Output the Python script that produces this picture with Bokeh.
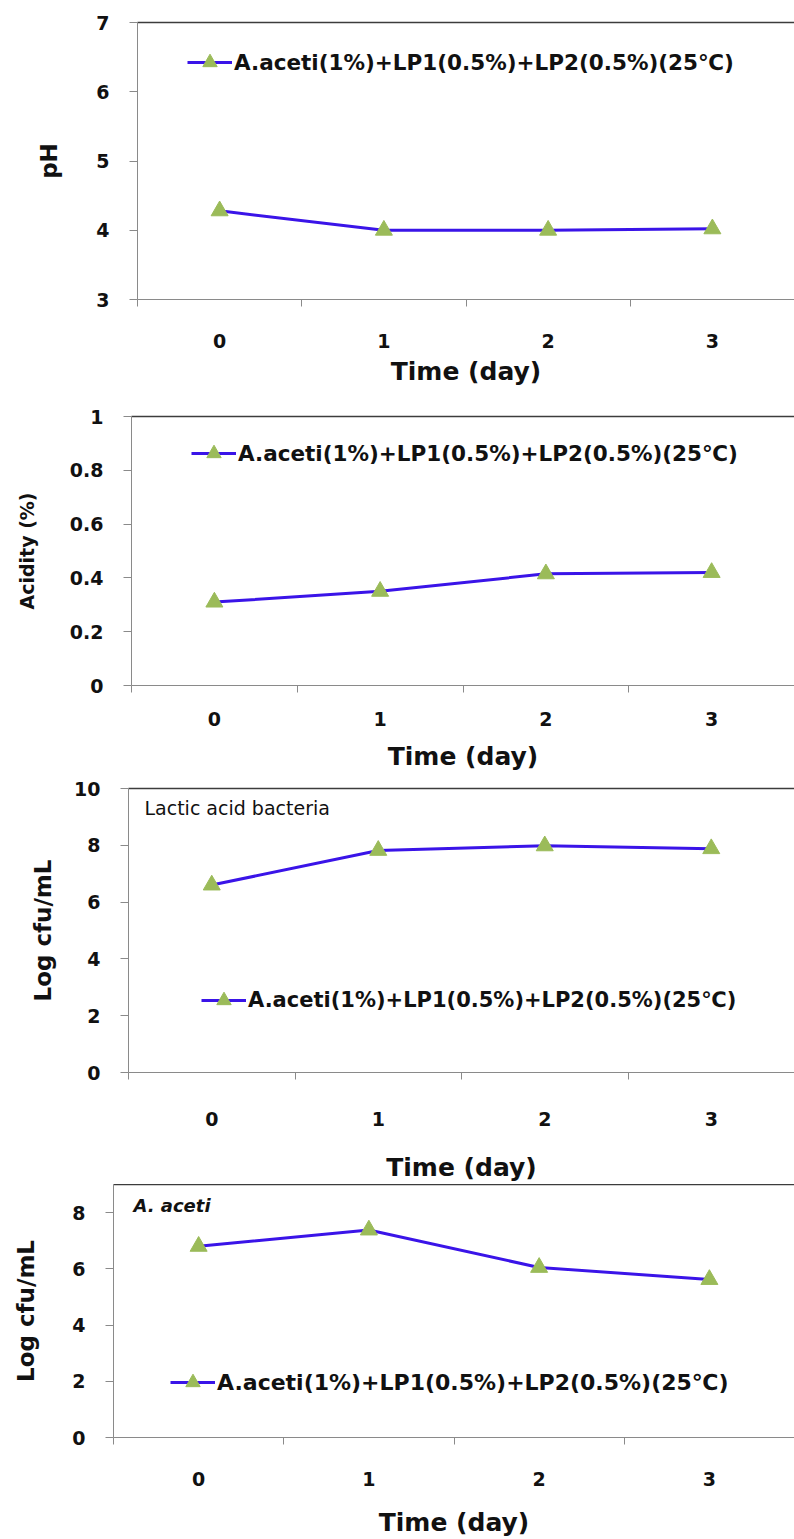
from bokeh.plotting import figure
from bokeh.layouts import column
from bokeh.models import (Range1d, FixedTicker, LinearAxis, Legend, LegendItem, Label)
from bokeh.embed import file_html
from bokeh.resources import INLINE

# ---- data -------------------------------------------------------------
days = ["0", "1", "2", "3"]
series_name = "A.aceti(1%)+LP1(0.5%)+LP2(0.5%)(25℃)"

ph_values = [4.28, 4.00, 4.00, 4.02]
acidity_values = [0.31, 0.35, 0.415, 0.42]
lab_values = [6.60, 7.82, 7.98, 7.88]
aceti_values = [6.80, 7.38, 6.05, 5.62]

ph_ticks = [3, 4, 5, 6, 7]
acidity_ticks = [0, 0.2, 0.4, 0.6, 0.8, 1]
acidity_tick_labels = ["0", "0.2", "0.4", "0.6", "0.8", "1"]
lab_ticks = [0, 2, 4, 6, 8, 10]
aceti_ticks = [0, 2, 4, 6, 8]

# ---- style ------------------------------------------------------------
LINE_COLOR = "#3a14e8"
MARKER_COLOR = "#9bbb59"
AXIS_GRAY = "#8a8a8a"
FONT = "DejaVu Sans"
W = 794


def panel(values, ticks, y_start, y_end, height, border_top, border_bottom,
          border_left, y_title, y_title_size, y_title_standoff,
          x_label_standoff, x_title_standoff, legend_xy, legend_size,
          tick_overrides=None):
    p = figure(width=W, height=height, output_backend="svg", toolbar_location=None,
               x_range=Range1d(0, 4), y_range=Range1d(y_start, y_end),
               min_border_left=border_left, min_border_right=0,
               min_border_top=border_top, min_border_bottom=border_bottom,
               x_axis_type=None, y_axis_type=None)
    p.frame_align = False
    p.outline_line_color = None
    p.background_fill_color = "white"
    p.border_fill_color = "white"

    xs = [i + 0.5 for i in range(len(days))]

    # category axis: labels at centres, tick marks at the category boundaries
    xaxis = LinearAxis(ticker=FixedTicker(ticks=xs, minor_ticks=[0, 1, 2, 3, 4]))
    xaxis.major_label_overrides = {x: d for x, d in zip(xs, days)}
    xaxis.major_tick_line_color = None
    xaxis.major_tick_in = 0
    xaxis.major_tick_out = 0
    xaxis.minor_tick_line_color = AXIS_GRAY
    xaxis.minor_tick_in = 0
    xaxis.minor_tick_out = 7
    xaxis.axis_line_color = AXIS_GRAY
    xaxis.major_label_text_font = FONT
    xaxis.major_label_text_font_style = "bold"
    xaxis.major_label_text_font_size = "19px"
    xaxis.major_label_text_color = "#111111"
    xaxis.major_label_standoff = x_label_standoff
    xaxis.axis_label = "Time (day)"
    xaxis.axis_label_text_font = FONT
    xaxis.axis_label_text_font_style = "bold"
    xaxis.axis_label_text_font_size = "25px"
    xaxis.axis_label_text_color = "#111111"
    xaxis.axis_label_standoff = x_title_standoff
    p.add_layout(xaxis, "below")

    yaxis = LinearAxis(ticker=FixedTicker(ticks=ticks, minor_ticks=[]))
    if tick_overrides:
        yaxis.major_label_overrides = tick_overrides
    yaxis.axis_line_color = AXIS_GRAY
    yaxis.major_tick_line_color = AXIS_GRAY
    yaxis.major_tick_in = 0
    yaxis.major_tick_out = 8
    yaxis.minor_tick_line_color = None
    yaxis.major_label_text_font = FONT
    yaxis.major_label_text_font_style = "bold"
    yaxis.major_label_text_font_size = "19px"
    yaxis.major_label_text_color = "#111111"
    yaxis.major_label_standoff = 20
    yaxis.axis_label = y_title
    yaxis.axis_label_text_font = FONT
    yaxis.axis_label_text_font_style = "bold"
    yaxis.axis_label_text_font_size = y_title_size
    yaxis.axis_label_text_color = "#111111"
    yaxis.axis_label_standoff = y_title_standoff
    p.add_layout(yaxis, "left")

    # dark rule along the top of the plot area
    top = LinearAxis(ticker=FixedTicker(ticks=[]))
    top.axis_line_color = "#3c3c3c"
    top.axis_line_width = 1.5
    top.major_tick_line_color = None
    top.minor_tick_line_color = None
    p.add_layout(top, "above")

    p.xgrid.visible = False
    p.ygrid.visible = False

    r_line = p.line(xs, values, line_color=LINE_COLOR, line_width=3)
    r_pts = p.scatter(xs, values, marker="triangle", size=17,
                      fill_color=MARKER_COLOR, line_color=MARKER_COLOR)

    legend = Legend(items=[LegendItem(label=series_name, renderers=[r_line, r_pts])],
                    location=legend_xy)
    legend.background_fill_alpha = 0
    legend.border_line_color = None
    legend.padding = 0
    legend.margin = 0
    legend.spacing = 0
    legend.glyph_width = 45
    legend.glyph_height = 36
    legend.label_standoff = 2
    legend.label_text_font = FONT
    legend.label_text_font_style = "bold"
    legend.label_text_font_size = legend_size
    legend.label_text_color = "#111111"
    p.add_layout(legend, "center")
    return p


p1 = panel(ph_values, ph_ticks, 3, 7, 390, 22, 91, 137, "pH", "23px", 31,
           27, 6, (50, 219), "21.5px")
p2 = panel(acidity_values, acidity_ticks, 0, 1, 385, 26, 90, 131, "Acidity (%)", "19px", 29,
           19, 13, (60, 214), "21.5px",
           tick_overrides={t: s for t, s in zip(acidity_ticks, acidity_tick_labels)})
p3 = panel(lab_values, lab_ticks, 0, 10, 409, 13, 111, 128, "Log cfu/mL", "23px", 15,
           32, 24, (73, 54), "21px")
p4 = panel(aceti_values, aceti_ticks, 0, 9, 355, 0, 101, 113, "Log cfu/mL", "23px", 30,
           27, 19, (57, 37), "22px")

p3.add_layout(Label(x=0.096, y=9.3, text="Lactic acid bacteria", text_font=FONT,
                    text_font_size="19px", text_baseline="middle", text_color="#111111"))
p4.add_layout(Label(x=0.117, y=8.25, text="A. aceti", text_font=FONT,
                    text_font_style="bold italic", text_font_size="18px",
                    text_baseline="middle", text_color="#111111"))

layout = column(p1, p2, p3, p4, spacing=0)
open("out.html", "w").write(file_html(layout, INLINE))
